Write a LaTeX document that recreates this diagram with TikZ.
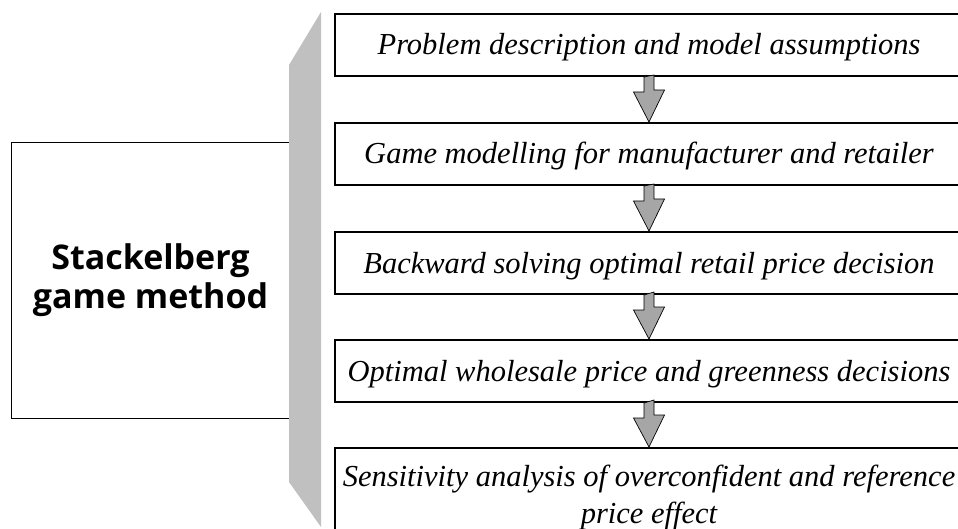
\documentclass[tikz,border=0pt]{standalone}
\usepackage{fontspec}
\setmainfont{Liberation Serif}
\newfontfamily\methodfont{Open Sans}
\usepackage{tikz}
\definecolor{bargray}{RGB}{192,192,192}
\definecolor{arrowgray}{RGB}{166,166,166}

\begin{document}
\begin{tikzpicture}[x=1pt, y=-1pt,
  stepbox/.style={draw=black, line width=2pt, anchor=north,
    minimum width=628pt, minimum height=62pt, inner xsep=0pt,
    text height=21pt, text depth=1pt,
    font=\fontsize{30.5}{37}\selectfont\itshape},
  methodbox/.style={draw=black, line width=0.8pt, align=center,
    minimum width=279pt, minimum height=276pt,
    font=\methodfont\bfseries\fontsize{34}{39}\selectfont},
  flowarrow/.style={draw=black, line width=0.7pt, fill=arrowgray, line join=miter}]
\useasboundingbox (0,0) rectangle (958,529);

% The method on the left
\node[methodbox] (method) at (150.5,280) {Stackelberg\\game method};

% The grey band between method and steps
\fill[bargray] (289,65) -- (321,12) -- (321,527) -- (289,482) -- cycle;

% The steps
\node[stepbox] (s1) at (649,13) {Problem description and model assumptions};
\node[stepbox] (s2) at (649,122) {Game modelling for manufacturer and retailer};
\node[stepbox] (s3) at (649,231) {Backward solving optimal retail price decision};
\node[stepbox] (s4) at (649,339) {Optimal wholesale price and greenness decisions};
\node[stepbox, text height=, text depth=, minimum height=99pt, align=center] (s5) at (649,447)
  {Sensitivity analysis of overconfident and reference\\price effect};

% Block arrows from one step to the next
\foreach \a/\b in {s1/s2, s2/s3, s3/s4, s4/s5} {
  \draw[flowarrow] (\a.south) ++(-5,0) -- ++(0,15) -- ++(-10.5,0) -- (\b.north)
    -- ++(15.5,-32) -- ++(-10.5,0) -- ++(0,-15) -- cycle;
}
\end{tikzpicture}
\end{document}
